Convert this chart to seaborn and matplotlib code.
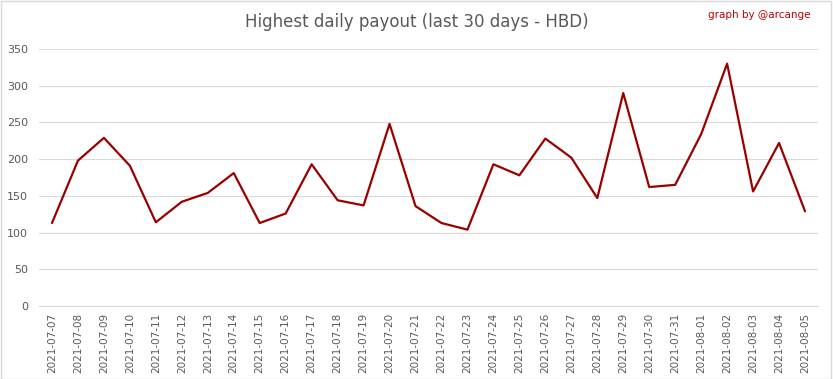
import matplotlib
matplotlib.use("Agg")
import matplotlib.pyplot as plt
import seaborn as sns
import pandas as pd

dates = ["2021-07-07", "2021-07-08", "2021-07-09", "2021-07-10", "2021-07-11",
         "2021-07-12", "2021-07-13", "2021-07-14", "2021-07-15", "2021-07-16",
         "2021-07-17", "2021-07-18", "2021-07-19", "2021-07-20", "2021-07-21",
         "2021-07-22", "2021-07-23", "2021-07-24", "2021-07-25", "2021-07-26",
         "2021-07-27", "2021-07-28", "2021-07-29", "2021-07-30", "2021-07-31",
         "2021-08-01", "2021-08-02", "2021-08-03", "2021-08-04", "2021-08-05"]
payout = [113, 198, 229, 191, 114, 142, 154, 181, 113, 126,
          193, 144, 137, 248, 136, 113, 104, 193, 178, 228,
          202, 147, 290, 162, 165, 234, 330, 156, 222, 129]
yticks = [0, 50, 100, 150, 200, 250, 300, 350]

df = pd.DataFrame({"date": dates, "payout": payout})

sns.set_style("white")
plt.rcParams['font.family'] = ['DejaVu Sans']

fig = plt.figure(figsize=(8.33, 3.79), dpi=100)
ax = fig.add_axes([39/833, 1 - 306/379, 779/833, 257/379])

xpos = list(range(len(dates)))
sns.lineplot(x=xpos, y=df["payout"], ax=ax, color="#990000", linewidth=1.6, sort=False)

ax.set_xlim(-0.5, len(dates) - 0.5)
ax.set_ylim(0, 350)
ax.set_yticks(yticks)
ax.set_xticks(xpos)
ax.set_xticklabels(dates, rotation=90, fontsize=7.5, color="#595959")
ax.tick_params(axis="y", labelsize=8, colors="#595959", length=0, pad=8)
ax.tick_params(axis="x", length=0, pad=5)
ax.set_xlabel("")
ax.set_ylabel("")
ax.grid(axis="y", color="#d9d9d9", linewidth=0.8)
ax.set_axisbelow(True)
for s in ["left", "right", "top"]:
    ax.spines[s].set_visible(False)
ax.spines["bottom"].set_color("#d9d9d9")
ax.spines["bottom"].set_linewidth(0.8)

fig.text(0.5, 1 - 22/379, "Highest daily payout (last 30 days - HBD)", ha="center", va="center",
         fontsize=12, color="#595959")
fig.text(810/833, 1 - 15/379, "graph by @arcange", ha="right", va="center",
         fontsize=7.5, color="#c00000")

border = plt.Rectangle((0.001, 0.001), 0.997, 0.996, transform=fig.transFigure,
                       fill=False, edgecolor="#d9d9d9", linewidth=1)
fig.patches.append(border)

fig.savefig("out.png", dpi=100)
